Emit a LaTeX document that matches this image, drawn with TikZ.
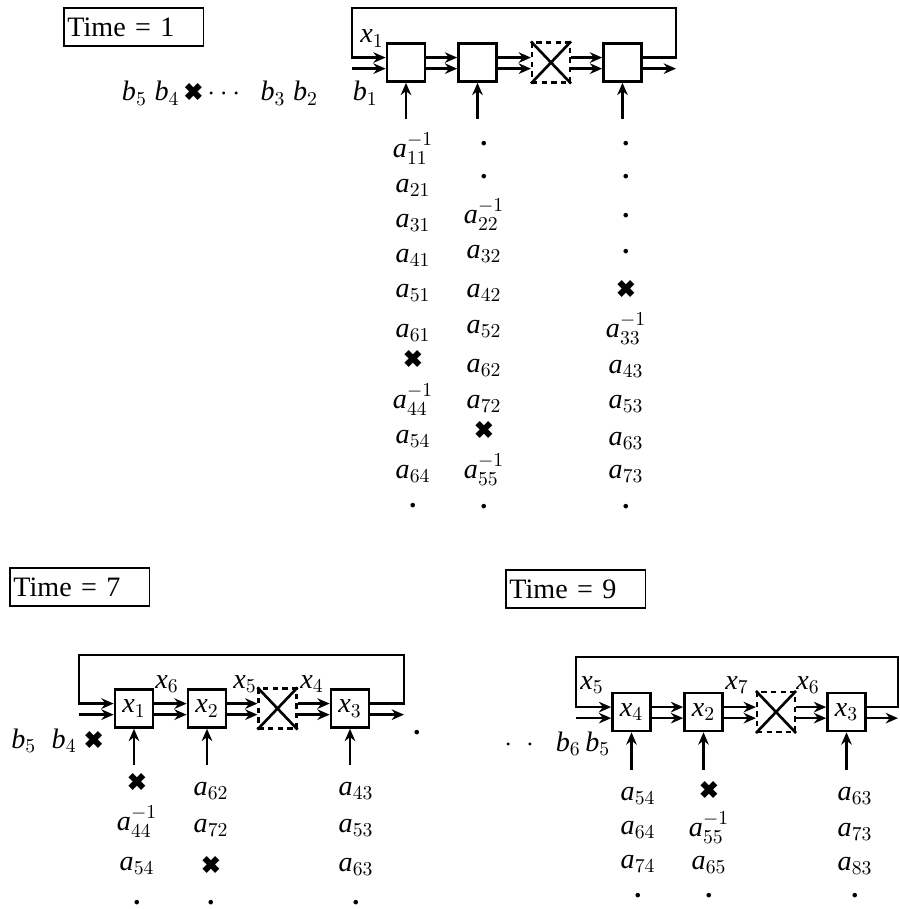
\RequirePackage{fix-cm}
\documentclass[tikz,border=0pt]{standalone}
\usepackage{amsmath}
\usepackage{fontspec}
\setmainfont{Liberation Serif}
\usepackage{pifont}
\usetikzlibrary{arrows.meta}

\newcommand\va{\textit{a}}
\newcommand\vb{\textit{b}}
\newcommand\vx{\textit{x}}
\newcommand\killmark{{\fontsize{14}{16}\selectfont\ding{54}}}
\newcommand\gapdot{\textbf{.}}

\tikzset{
  cell/.style={draw, line width=1.5pt, minimum width=0.76cm, minimum height=0.76cm, inner sep=0pt, font=\fontsize{16}{19}\selectfont},
  crossbox/.style={draw, dash pattern=on 3pt off 2.5pt, line width=1.2pt, minimum width=0.76cm, minimum height=0.8cm, inner sep=0pt},
  flow/.style={line width=1.5pt, -{Stealth[length=7pt,width=6pt]}},
  wire/.style={line width=1.5pt},
  entry/.style={anchor=base, inner sep=0pt, font=\fontsize{16}{19}\selectfont},
  timebox/.style={draw, line width=1pt, anchor=north west, text width=2.65cm, minimum height=0.76cm, inner xsep=2pt, font=\fontsize{16}{19}\selectfont},
}

\begin{document}
\begin{tikzpicture}[x=0.02cm, y=-0.02cm]
    \useasboundingbox (0,0) rectangle (899,909);
    \clip (0,0) rectangle (899,909);

    % Time = 1
    \node[timebox] (clk1) at (63,7) {Time = 1};
    \node[cell] (c1a) at (406,62.5) {};
    \node[cell] (c1b) at (477.5,62.5) {};
    \node[crossbox] (c1x) at (551,62.5) {};
    \node[cell] (c1d) at (622.5,62.5) {};
    \coordinate (l1w) at (352,8);
    \coordinate (l1e) at (676,8);
    \draw[wire] (c1x.north west) -- (c1x.south east) (c1x.north east) -- (c1x.south west);
    \foreach \p/\q in {c1a/c1b,c1b/c1x,c1x/c1d}{
        \draw[flow] ([yshift=2.8pt]\p.east) -- ([yshift=2.8pt]\q.west);
        \draw[flow] ([yshift=-3.5pt]\p.east) -- ([yshift=-3.5pt]\q.west);
    }
    \draw[flow] ([yshift=2.8pt]c1d.east) -| (l1e) -- (l1w) |- ([yshift=2.8pt]c1a.west);
    \draw[flow] ([yshift=-3.5pt]c1a.west -| l1w) -- ([yshift=-3.5pt]c1a.west);
    \draw[flow] ([yshift=-3.5pt]c1d.east) -- ([yshift=-3.5pt]c1d.east -| l1e);
    \foreach \c in {c1a,c1b,c1d}
        \draw[flow] ([yshift=-0.72cm]\c.south) -- (\c.south);
    \node[entry] (s1a) at (372,43) {$\vx_1$};
    \node[entry, anchor=base east] (feed1) at (378,101) {$\vb_5\;\vb_4$\,\killmark$\,\cdots\;\;\vb_3\;\vb_2$\hspace{0.7cm}$\vb_1$};
    \foreach \y/\e [count=\k] in {157/{$\va^{-1}_{11}$},192/{$\va_{21}$},227/{$\va_{31}$},262/{$\va_{41}$},297/{$\va_{51}$},337/{$\va_{61}$},367/\killmark,408/{$\va^{-1}_{44}$},443/{$\va_{54}$},478/{$\va_{64}$},507/\gapdot}
        \node[entry] (r1a\k) at (413,\y) {\e};
    \foreach \y/\e [count=\k] in {145/\gapdot,178/\gapdot,223/{$\va^{-1}_{22}$},258/{$\va_{32}$},297/{$\va_{42}$},333/{$\va_{52}$},372/{$\va_{62}$},408/{$\va_{72}$},438/\killmark,478/{$\va^{-1}_{55}$},508/\gapdot}
        \node[entry] (r1b\k) at (484,\y) {\e};
    \foreach \y/\e [count=\k] in {145/\gapdot,178/\gapdot,217/\gapdot,253/\gapdot,297/\killmark,337/{$\va^{-1}_{33}$},373/{$\va_{43}$},408/{$\va_{53}$},445/{$\va_{63}$},478/{$\va_{73}$},508/\gapdot}
        \node[entry] (r1d\k) at (626,\y) {\e};

    % Time = 7
    \node[timebox] (clk7) at (9,567) {Time = 7};
    \node[cell] (c7a) at (134,708.5) {$\vx_1$};
    \node[cell] (c7b) at (207,708.5) {$\vx_2$};
    \node[crossbox] (c7x) at (277.5,708.5) {};
    \node[cell] (c7c) at (350,708.5) {$\vx_3$};
    \coordinate (l7w) at (79,655);
    \coordinate (l7e) at (404,655);
    \draw[wire] (c7x.north west) -- (c7x.south east) (c7x.north east) -- (c7x.south west);
    \foreach \p/\q in {c7a/c7b,c7b/c7x,c7x/c7c}{
        \draw[flow] ([yshift=2.8pt]\p.east) -- ([yshift=2.8pt]\q.west);
        \draw[flow] ([yshift=-3.5pt]\p.east) -- ([yshift=-3.5pt]\q.west);
    }
    \draw[flow] ([yshift=2.8pt]c7c.east) -| (l7e) -- (l7w) |- ([yshift=2.8pt]c7a.west);
    \draw[flow] ([yshift=-3.5pt]c7a.west -| l7w) -- ([yshift=-3.5pt]c7a.west);
    \draw[flow] ([yshift=-3.5pt]c7c.east) -- ([yshift=-3.5pt]c7c.east -| l7e);
    \foreach \c in {c7a,c7b,c7c}
        \draw[flow] ([yshift=-0.72cm]\c.south) -- (\c.south);
    \node[entry] (s7a) at (167,688) {$\vx_6$};
    \node[entry] (s7b) at (245,688) {$\vx_5$};
    \node[entry] (s7c) at (312,688) {$\vx_4$};
    \node[entry] (d7) at (417,734) {\gapdot};
    \node[entry, anchor=base west] (feed7) at (11,748) {$\vb_5\;\;\vb_4$\;\killmark};
    \foreach \y/\e [count=\k] in {790/\killmark,830/{$\va^{-1}_{44}$},870/{$\va_{54}$},904/\gapdot}
        \node[entry] (r7a\k) at (137,\y) {\e};
    \foreach \y/\e [count=\k] in {795/{$\va_{62}$},832/{$\va_{72}$},873/\killmark,904/\gapdot}
        \node[entry] (r7b\k) at (211,\y) {\e};
    \foreach \y/\e [count=\k] in {795/{$\va_{43}$},832/{$\va_{53}$},871/{$\va_{63}$},904/\gapdot}
        \node[entry] (r7c\k) at (356,\y) {\e};

    % Time = 9
    \node[timebox] (clk9) at (505,569) {Time = 9};
    \node[cell] (c9a) at (631.5,712) {$\vx_4$};
    \node[cell] (c9b) at (703.5,712) {$\vx_2$};
    \node[crossbox] (c9x) at (776,712) {};
    \node[cell] (c9c) at (846.5,712) {$\vx_3$};
    \coordinate (l9w) at (576,657);
    \coordinate (l9e) at (898,657);
    \draw[wire] (c9x.north west) -- (c9x.south east) (c9x.north east) -- (c9x.south west);
    \foreach \p/\q in {c9a/c9b,c9b/c9x,c9x/c9c}{
        \draw[flow] ([yshift=2.8pt]\p.east) -- ([yshift=2.8pt]\q.west);
        \draw[flow] ([yshift=-3.5pt]\p.east) -- ([yshift=-3.5pt]\q.west);
    }
    \draw[flow] ([yshift=2.8pt]c9c.east) -| (l9e) -- (l9w) |- ([yshift=2.8pt]c9a.west);
    \draw[flow] ([yshift=-3.5pt]c9a.west -| l9w) -- ([yshift=-3.5pt]c9a.west);
    \draw[flow] ([yshift=-3.5pt]c9c.east) -- ([yshift=-3.5pt]c9c.east -| l9e);
    \foreach \c in {c9a,c9b,c9c}
        \draw[flow] ([yshift=-0.76cm]\c.south) -- (\c.south);
    \node[entry] (s9a) at (592,689) {$\vx_5$};
    \node[entry] (s9b) at (737,689) {$\vx_7$};
    \node[entry] (s9c) at (808,689) {$\vx_6$};
    \node[entry, anchor=base west] (feed9) at (504,751) {$\cdot\;\cdot\;\;\vb_6\,\vb_5$};
    \foreach \y/\e [count=\k] in {800/{$\va_{54}$},834/{$\va_{64}$},868/{$\va_{74}$},897/\gapdot}
        \node[entry] (r9a\k) at (638,\y) {\e};
    \foreach \y/\e [count=\k] in {798/\killmark,836/{$\va^{-1}_{55}$},869/{$\va_{65}$},897/\gapdot}
        \node[entry] (r9b\k) at (709,\y) {\e};
    \foreach \y/\e [count=\k] in {800/{$\va_{63}$},836/{$\va_{73}$},870/{$\va_{83}$},897/\gapdot}
        \node[entry] (r9c\k) at (855,\y) {\e};
\end{tikzpicture}
\end{document}
